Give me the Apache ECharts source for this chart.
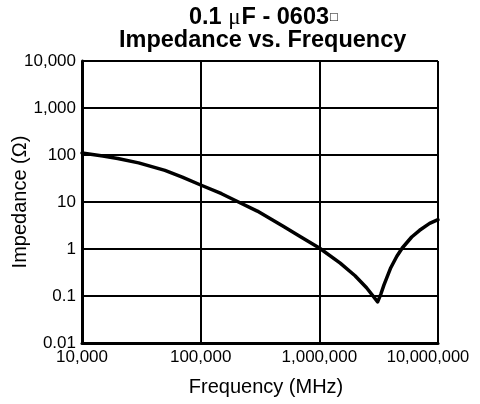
<!DOCTYPE html>
<html>
<head>
<meta charset="utf-8">
<script src="https://cdn.jsdelivr.net/npm/echarts@6/dist/echarts.min.js"></script>
<style>
html,body{margin:0;padding:0;background:#fff;}
#chart{width:480px;height:404px;}
</style>
</head>
<body>
<div id="chart"></div>
<script>
var titleLine1a = '0.1 ';
var titleMu = '\u03BC';
var titleLine1b = 'F - 0603';
var titleLine2 = 'Impedance vs. Frequency';
var xAxisName = 'Frequency (MHz)';
var yAxisName = 'Impedance (\u03A9)';
var xTickLabels = ['10,000', '100,000', '1,000,000', '10,000,000'];
var yTickLabels = ['0.01', '0.1', '1', '10', '100', '1,000', '10,000'];
var frequency = [10000, 15000, 20000, 30000, 50000, 70000, 100000, 150000, 200000, 300000, 500000, 700000, 1000000, 1500000, 2000000, 2500000, 3100000, 3300000, 3500000, 4000000, 4500000, 5000000, 6000000, 7000000, 8500000, 10000000];
var impedance = [110, 95, 84, 68, 47, 34, 23, 15, 10.5, 6.4, 3.0, 1.8, 1.05, 0.50, 0.27, 0.15, 0.075, 0.11, 0.17, 0.40, 0.7, 1.05, 1.8, 2.5, 3.5, 4.2];

var chart = echarts.init(document.getElementById('chart'), null, {renderer: 'canvas'});
var FONT = 'Liberation Sans, Arial, Helvetica, sans-serif';
var seriesData = frequency.map(function (f, i) { return [f, impedance[i]]; });

chart.setOption({
  animation: false,
  backgroundColor: '#fff',
  graphic: [
    {type: 'text', left: 189, top: 6, style: {
      text: '{a|' + titleLine1a + '}{mu|' + titleMu + '}{a|' + titleLine1b + '}{box|\u25A1}',
      rich: {
        a: {fontWeight: 'bold', fontSize: 23.5, fontFamily: FONT, color: '#000'},
        mu: {fontFamily: 'Liberation Serif, DejaVu Serif, serif', fontSize: 23, fontWeight: 'normal', color: '#000', padding: [0, 1, 0, 0]},
        box: {fontFamily: FONT, fontSize: 13, color: '#aaa', padding: [0, 0, 2, 1]}
      }}},
    {type: 'text', left: 119, top: 29, style: {
      text: titleLine2, font: 'bold 23.5px ' + FONT, fill: '#000'}}
  ],
  grid: {left: 82, right: 42, top: 61, bottom: 61, containLabel: false, outerBoundsMode: 'none'},
  xAxis: {
    type: 'log', logBase: 10, min: 10000, max: 10000000,
    name: xAxisName, nameLocation: 'middle', nameGap: 34, nameMoveOverlap: false,
    nameTextStyle: {fontSize: 20, color: '#000', fontFamily: FONT, padding: [0, 0, 0, 12]},
    axisLine: {show: true, lineStyle: {color: '#000', width: 3}},
    axisTick: {show: false},
    minorTick: {show: false},
    axisLabel: {
      color: '#000', fontSize: 17, fontFamily: FONT, margin: 6,
      formatter: function (v) {
        var i = Math.round(Math.log10(v)) - 4;
        return i === xTickLabels.length - 1 ? '{last|' + xTickLabels[i] + '}' : xTickLabels[i];
      },
      rich: {last: {fontSize: 16.5, fontFamily: FONT, color: '#000', padding: [0, 20, 0, 0]}}
    },
    splitLine: {show: true, lineStyle: {color: '#000', width: 2}}
  },
  yAxis: {
    type: 'log', logBase: 10, min: 0.01, max: 10000,
    name: yAxisName, nameLocation: 'middle', nameGap: 52, nameMoveOverlap: false,
    nameTextStyle: {fontSize: 20, color: '#000', fontFamily: FONT},
    axisLine: {show: true, lineStyle: {color: '#000', width: 3}},
    axisTick: {show: false},
    minorTick: {show: false},
    axisLabel: {
      color: '#000', fontSize: 17, fontFamily: FONT, margin: 6,
      formatter: function (v) { return yTickLabels[Math.round(Math.log10(v)) + 2]; }
    },
    splitLine: {show: true, lineStyle: {color: '#000', width: 2}}
  },
  series: [{
    type: 'line',
    data: seriesData,
    showSymbol: false,
    smooth: false,
    lineStyle: {color: '#000', width: 3.5, join: 'round', cap: 'round'}
  }]
});
</script>
</body>
</html>
